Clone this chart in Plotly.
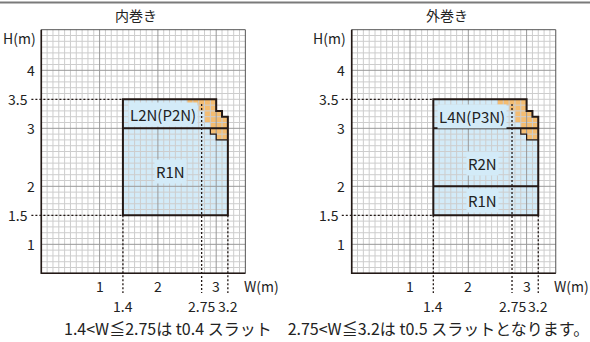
import numpy as np
import plotly.graph_objects as go

# ---------------- data ----------------
TITLES = ["内巻き", "外巻き"]
W_TICKS = [1, 2, 3]
H_TICKS = [4, 3, 2, 1]
H_MARKS = [3.5, 1.5]
W_MARKS = [1.4, 2.75, 3.2]
W_MARK_TEXT = ["1.4", "2.75", "3.2"]
W_AXIS = [0.0, 3.5]
H_AXIS = [0.5, 4.7]
W_MIN, W_MAX = 1.4, 3.2
H_MIN, H_MAX = 1.5, 3.5
SLAT_SPLIT = 2.75
# stair-step top-right corner of the usable region
STEP_W = [3.2, 3.1, 3.1, 3.0, 3.0]
STEP_H = [3.2, 3.2, 3.3, 3.3, 3.5]
# orange cells (row bottom, left start, right end)
ORANGE_H0 = [3.4, 3.3, 3.2, 3.1, 3.0, 2.9, 2.8]
ORANGE_W0 = [2.5, 2.7, 2.8, 2.8, 2.9, 2.9, 3.0]
ORANGE_W1 = [3.0, 3.0, 3.1, 3.2, 3.2, 3.2, 3.2]
DIVIDERS = [[3.0], [3.0, 2.0]]
ZONE_LABELS = [["L2N(P2N)", "R1N"], ["L4N(P3N)", "R2N", "R1N"]]
ZONE_LABEL_W = [[2.09, 2.22], [2.06, 2.25, 2.25]]
ZONE_LABEL_H = [[3.23, 2.25], [3.21, 2.40, 1.75]]
FOOTNOTE = "1.4<W≦2.75は t0.4 スラット　2.75<W≦3.2は t0.5 スラットとなります。"

# ---------------- style ----------------
FONT = "Noto Sans CJK JP"
DARK = "#231815"
BLUE = "#d3ebf8"
ORANGE = "#f4bd72"
MINOR = "#cdcdcd"
MAJOR = "#999999"

fig = go.Figure()
shapes = []
annotations = []

XREFS = ["x", "x2"]
for ci in range(2):
    xr = XREFS[ci]
    # grid lines
    xs_all = np.round(np.arange(W_AXIS[0], W_AXIS[1] + 1e-9, 0.1), 2)
    ys_all = np.round(np.arange(H_AXIS[0], H_AXIS[1] + 1e-9, 0.1), 2)
    for major in (False, True):
        gx, gy = [], []
        for v in xs_all:
            is_major = abs(v - round(v)) < 1e-6
            if is_major == major and W_AXIS[0] < v < W_AXIS[1]:
                gx += [v, v, None]
                gy += [H_AXIS[0], H_AXIS[1], None]
        for v in ys_all:
            is_major = abs(v - round(v)) < 1e-6
            if is_major == major and H_AXIS[0] < v < H_AXIS[1]:
                gx += [W_AXIS[0], W_AXIS[1], None]
                gy += [v, v, None]
        fig.add_trace(go.Scatter(
            x=gx, y=gy, mode="lines", xaxis=xr, yaxis="y",
            line=dict(color=MAJOR if major else MINOR, width=1),
            hoverinfo="skip", showlegend=False))

    # region path
    pts = [(W_MIN, H_MIN), (W_MAX, H_MIN)] + list(zip(STEP_W, STEP_H)) + [(W_MIN, H_MAX)]
    path = "M " + " L ".join(f"{a},{b}" for a, b in pts) + " Z"
    shapes.append(dict(type="path", path=path, xref=xr, yref="y",
                       fillcolor=BLUE, line=dict(width=0), layer="below"))
    for h0, w0, w1 in zip(ORANGE_H0, ORANGE_W0, ORANGE_W1):
        shapes.append(dict(type="rect", xref=xr, yref="y", x0=w0, x1=w1,
                           y0=h0, y1=h0 + 0.1, fillcolor=ORANGE,
                           line=dict(width=0), layer="below"))
    # orange lower staircase outline (below divider)
    low = [(h, w) for h, w in zip(ORANGE_H0, ORANGE_W0) if h < DIVIDERS[0][0] - 1e-9]
    sp = []
    top = DIVIDERS[0][0]
    for h, w in low:
        sp += [(w, top), (w, h)]
        top = h
    sp.append((W_MAX, top))
    shapes.append(dict(type="path", xref=xr, yref="y",
                       path="M " + " L ".join(f"{a},{b}" for a, b in sp),
                       line=dict(color=DARK, width=1.2), layer="above"))
    # outline
    shapes.append(dict(type="path", path=path, xref=xr, yref="y",
                       line=dict(color=DARK, width=2), layer="above"))
    for d in DIVIDERS[ci]:
        shapes.append(dict(type="line", xref=xr, yref="y", x0=W_MIN, x1=W_MAX,
                           y0=d, y1=d, line=dict(color=DARK, width=2), layer="above"))
    # plot frame
    shapes.append(dict(type="rect", xref=xr, yref="y", x0=W_AXIS[0], x1=W_AXIS[1],
                       y0=H_AXIS[0], y1=H_AXIS[1], line=dict(color="#555", width=1),
                       layer="above"))
    shapes.append(dict(type="path", xref=xr, yref="y",
                       path=f"M {W_AXIS[0]},{H_AXIS[1]} L {W_AXIS[0]},{H_AXIS[0]} L {W_AXIS[1]},{H_AXIS[0]}",
                       line=dict(color=DARK, width=1.6), layer="above"))
    # dotted guides
    dot = dict(color=DARK, width=1.3, dash="2px,2px")
    for h in H_MARKS:
        shapes.append(dict(type="line", xref=xr, yref="y", x0=-0.17, x1=W_MIN,
                           y0=h, y1=h, line=dot, layer="above"))
    for w in W_MARKS:
        top_y = 3.42 if w == SLAT_SPLIT else H_MIN
        shapes.append(dict(type="line", xref=xr, yref="y", x0=w, x1=w,
                           y0=top_y, y1=0.16, line=dot, layer="above"))

    # texts
    tf = dict(family=FONT, size=14, color="#222")
    annotations.append(dict(x=1.63, y=4.95, xref=xr, yref="y", text=TITLES[ci],
                            showarrow=False, font=dict(family=FONT, size=14, color="#222")))
    annotations.append(dict(x=-0.06, y=4.56, xref=xr, yref="y", text="H(m)",
                            showarrow=False, xanchor="right", font=tf))
    for h in H_TICKS:
        annotations.append(dict(x=-0.08, y=h, xref=xr, yref="y", text=str(h),
                                showarrow=False, xanchor="right", font=tf))
    for h in H_MARKS:
        annotations.append(dict(x=-0.19, y=h, xref=xr, yref="y", text=str(h),
                                showarrow=False, xanchor="right", font=tf))
    for w in W_TICKS:
        annotations.append(dict(x=w, y=0.28, xref=xr, yref="y", text=str(w),
                                showarrow=False, font=tf))
    annotations.append(dict(x=3.77, y=0.28, xref=xr, yref="y", text="W(m)",
                            showarrow=False, font=tf))
    for w, t in zip(W_MARKS, W_MARK_TEXT):
        annotations.append(dict(x=w, y=-0.06, xref=xr, yref="y", text=t,
                                showarrow=False, font=tf))
    for t, lw, lh in zip(ZONE_LABELS[ci], ZONE_LABEL_W[ci], ZONE_LABEL_H[ci]):
        annotations.append(dict(x=lw, y=lh, xref=xr, yref="y", text=t,
                                showarrow=False, bgcolor=BLUE, borderpad=1,
                                font=dict(family=FONT, size=15, color="#222")))

annotations.append(dict(x=0.554, y=0.041, xref="paper", yref="paper", text=FOOTNOTE,
                        xanchor="center", yanchor="middle", showarrow=False,
                        font=dict(family=FONT, size=16, color="#222")))
# thin rule along the top edge
shapes.append(dict(type="line", xref="paper", yref="paper", x0=0, x1=1, y0=0.993, y1=0.993,
                   line=dict(color="#7a7a7a", width=2), layer="above"))

fig.update_layout(
    width=590, height=342, margin=dict(l=0, r=0, t=0, b=0),
    paper_bgcolor="white", plot_bgcolor="white",
    showlegend=False, hovermode=False,
    xaxis=dict(domain=[0, 0.5], range=[-0.7084, 4.3516], visible=False, anchor="y"),
    xaxis2=dict(domain=[0.5, 1], range=[-0.9726, 4.0875], visible=False, anchor="y"),
    yaxis=dict(domain=[0, 1], range=[-0.684, 5.212], visible=False),
    shapes=shapes, annotations=annotations,
)
fig.write_html("out.html", config={"displayModeBar": False},
               post_script="document.body.style.margin='0';")
